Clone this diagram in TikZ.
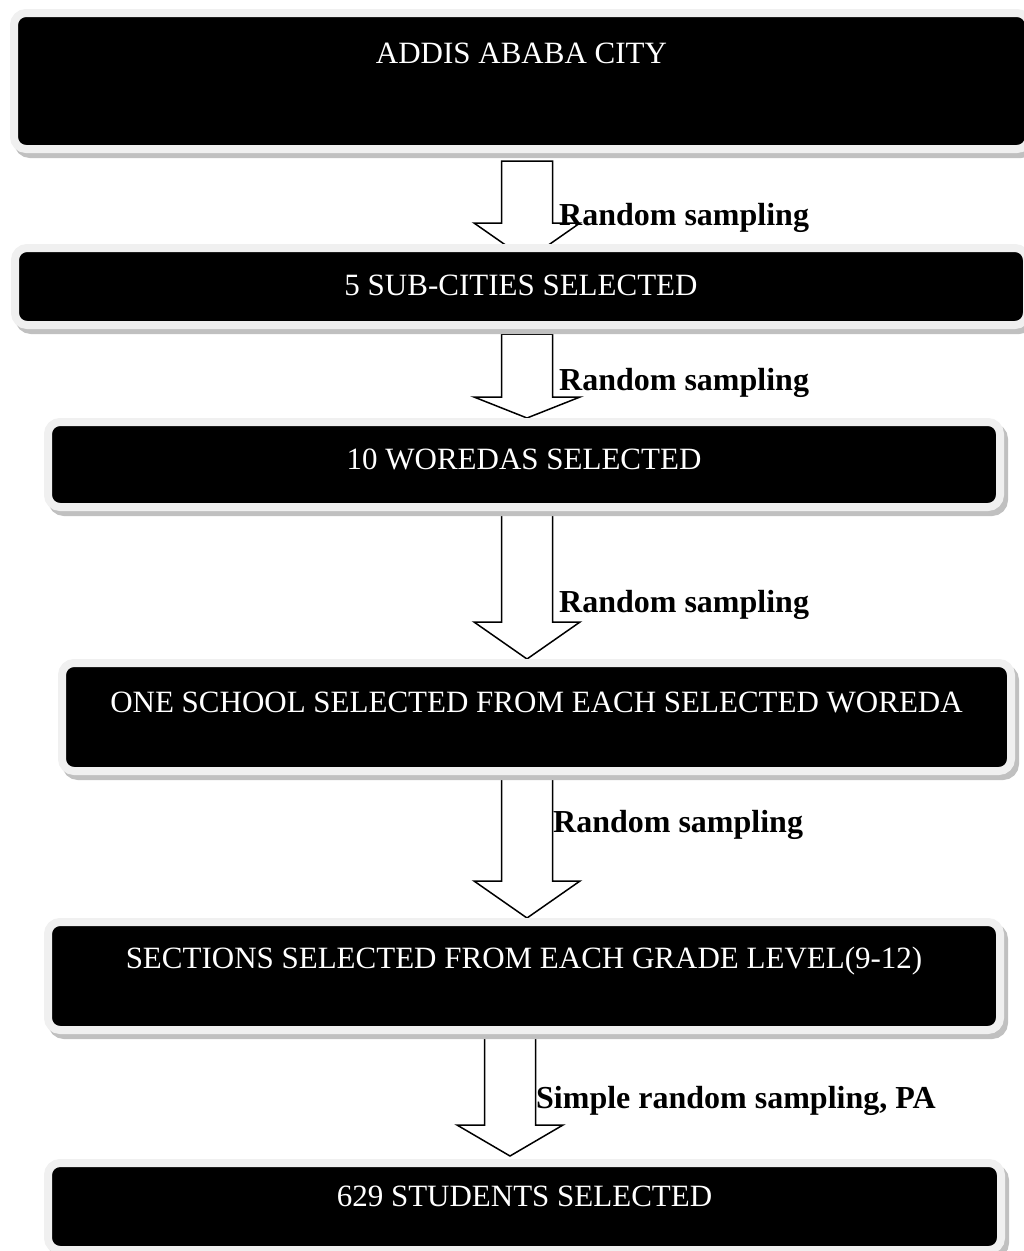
\documentclass[tikz,border=0pt]{standalone}
\usepackage{fontspec}
\setmainfont{Liberation Serif}
\usepackage{tikz}
\usetikzlibrary{calc}
\definecolor{framegray}{HTML}{F0F0F0}
\definecolor{shadowgray}{HTML}{C0C0C0}
\tikzset{
    stage/.style={anchor=north west, inner sep=0pt, fill=black, draw=framegray,
        line width=8pt, rounded corners=12pt, text=white,
        font=\fontsize{31}{36}\selectfont,
        preaction={draw=shadowgray, fill=shadowgray, line width=8pt,
            transform canvas={xshift=4pt, yshift=-5pt}}},
    method/.style={anchor=base west, inner sep=0pt, font=\fontsize{32}{38}\selectfont\bfseries},
    blockarrow/.style={draw=black, fill=white, line width=1.5pt,
        to path={let \p1=(\tikztostart), \p2=(\tikztotarget) in
            (\x1-25.5pt,\y1) -- (\x1+25.5pt,\y1) -- (\x1+25.5pt,\y2+#1) -- (\x1+53pt,\y2+#1)
            -- (\x2,\y2) -- (\x1-53pt,\y2+#1) -- (\x1-25.5pt,\y2+#1) -- cycle}},
    blockarrow/.default=35pt
}
\begin{document}
\begin{tikzpicture}[x=1pt,y=-1pt]
	\useasboundingbox (0,0) rectangle (1024,1251);
	% arrows first, the boxes cover their tips
	\coordinate (a1) at (527,161);  \coordinate (t1) at (527,260);
	\coordinate (a2) at (527,334);  \coordinate (t2) at (527,418);
	\coordinate (a3) at (527,514);  \coordinate (t3) at (527,659);
	\coordinate (a4) at (527,773);  \coordinate (t4) at (527,918);
	\coordinate (a5) at (510,1036); \coordinate (t5) at (510,1156);
	\draw[blockarrow=37pt] (a1) to (t1);
	\draw[blockarrow=21pt] (a2) to (t2);
	\draw[blockarrow=37pt] (a3) to (t3);
	\draw[blockarrow=37pt] (a4) to (t4);
	\draw[blockarrow=31pt] (a5) to (t5);
	% stages
	\node[stage, minimum width=1015pt, text height=50pt, text depth=86pt] (city) at (10,9) {ADDIS ABABA CITY};
	\node[stage, minimum width=1012pt, text height=47pt, text depth=30pt] (subcity) at (11,244) {5 SUB-CITIES SELECTED};
	\node[stage, minimum width=952pt, text height=47pt, text depth=38pt] (woreda) at (44,418) {10 WOREDAS SELECTED};
	\node[stage, minimum width=949pt, text height=49pt, text depth=59pt] (school) at (58,659) {ONE SCHOOL SELECTED FROM EACH SELECTED WOREDA};
	\node[stage, minimum width=952pt, text height=46pt, text depth=62pt] (section) at (44,918) {SECTIONS SELECTED FROM EACH GRADE LEVEL(9-12)};
	\node[stage, minimum width=953pt, text height=43pt, text depth=44pt] (student) at (44,1159) {629 STUDENTS SELECTED};
	% sampling methods
	\node[method] (m1) at (559,225) {Random sampling};
	\node[method] (m2) at (559,390) {Random sampling};
	\node[method] (m3) at (559,612) {Random sampling};
	\node[method] (m4) at (553,832) {Random sampling};
	\node[method] (m5) at (536,1108) {Simple random sampling, PA};
\end{tikzpicture}
\end{document}
